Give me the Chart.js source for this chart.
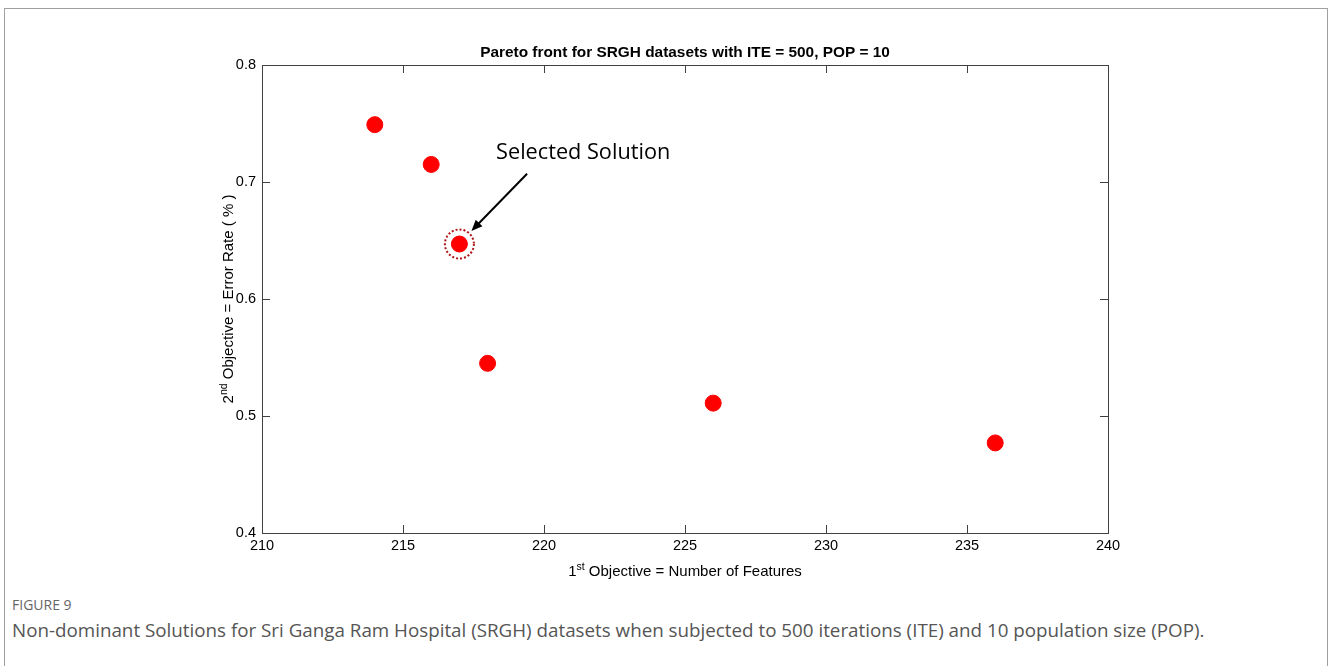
<!DOCTYPE html>
<html>
<head>
<meta charset="utf-8">
<script src="https://cdn.jsdelivr.net/npm/chart.js@4"></script>
<style>
  body { margin: 0; background: #fff; width: 1328px; height: 666px; overflow: hidden; position: relative; }
  .frame { position: absolute; left: 4px; top: 8px; right: 0px; height: 700px; border: 1px solid #a0a0a0; border-bottom: none; }
  #wrap { position: absolute; left: 0; top: 0; width: 1328px; height: 590px; }
  .fig-label { position: absolute; left: 12px; top: 595px; font-family: "Open Sans", sans-serif; font-size: 14px; color: #666; }
  .fig-caption { position: absolute; left: 12px; top: 617px; font-family: "Open Sans", sans-serif; font-size: 18.8px; color: #555; white-space: nowrap; }
</style>
</head>
<body>
<div class="frame"></div>
<div id="wrap"><canvas id="paretoChart"></canvas></div>
<div class="fig-label">FIGURE 9</div>
<div class="fig-caption">Non-dominant Solutions for Sri Ganga Ram Hospital (SRGH) datasets when subjected to 500 iterations (ITE) and 10 population size (POP).</div>
<script>
// data
const numFeatures = [214, 216, 217, 218, 226, 236];
const errorRate = [0.749, 0.715, 0.647, 0.545, 0.511, 0.477];
const xTicks = [210, 215, 220, 225, 230, 235, 240];
const yTicks = [0.4, 0.5, 0.6, 0.7, 0.8];
const selectedIndex = 2;

const chartTitle = 'Pareto front for SRGH datasets with ITE = 500, POP = 10';
const annotationText = 'Selected Solution';

const axisFont = '15px "Liberation Sans", Arial, sans-serif';

// box, inward ticks, axis titles with superscripts, annotation
const matlabAxes = {
  id: 'matlabAxes',
  afterDraw(chart) {
    const ctx = chart.ctx;
    const a = chart.chartArea;
    const xs = chart.scales.x;
    const ys = chart.scales.y;
    ctx.save();
    ctx.strokeStyle = '#404040';
    ctx.lineWidth = 1;
    ctx.strokeRect(a.left + 0.5, a.top + 0.5, a.right - a.left, a.bottom - a.top);

    const tl = 8;
    ctx.beginPath();
    xTicks.forEach(v => {
      const px = Math.round(xs.getPixelForValue(v)) + 0.5;
      ctx.moveTo(px, a.bottom); ctx.lineTo(px, a.bottom - tl);
      ctx.moveTo(px, a.top); ctx.lineTo(px, a.top + tl);
    });
    yTicks.forEach(v => {
      const py = Math.round(ys.getPixelForValue(v)) + 0.5;
      ctx.moveTo(a.left, py); ctx.lineTo(a.left + tl, py);
      ctx.moveTo(a.right, py); ctx.lineTo(a.right - tl, py);
    });
    ctx.stroke();

    // title
    const cx = (a.left + a.right) / 2;
    ctx.fillStyle = '#000';
    ctx.font = 'bold 15.4px "Liberation Sans", Arial, sans-serif';
    ctx.textAlign = 'center';
    ctx.textBaseline = 'alphabetic';
    ctx.fillText(chartTitle, cx, a.top - 8);

    // x axis title: 1st Objective = Number of Features
    drawSupLabel(ctx, '1', 'st', ' Objective = Number of Features', cx, a.bottom + 43);

    // y axis title rotated
    ctx.save();
    ctx.translate(a.left - 29, (a.top + a.bottom) / 2);
    ctx.rotate(-Math.PI / 2);
    drawSupLabel(ctx, '2', 'nd', ' Objective = Error Rate ( % )', 0, 0);
    ctx.restore();

    // selected solution marker
    const sx = xs.getPixelForValue(numFeatures[selectedIndex]);
    const sy = ys.getPixelForValue(errorRate[selectedIndex]);
    ctx.strokeStyle = '#b01515';
    ctx.lineWidth = 2;
    ctx.setLineDash([2, 2]);
    ctx.beginPath();
    ctx.arc(sx, sy, 14.5, 0, Math.PI * 2);
    ctx.stroke();
    ctx.setLineDash([]);

    // arrow
    const tx = xs.getPixelForValue(219.4), ty = ys.getPixelForValue(0.707);
    const hx = sx + 12, hy = sy - 13;
    const ang = Math.atan2(hy - ty, hx - tx);
    ctx.strokeStyle = '#000';
    ctx.fillStyle = '#000';
    ctx.lineWidth = 2;
    ctx.beginPath();
    ctx.moveTo(tx, ty);
    ctx.lineTo(hx - 8 * Math.cos(ang), hy - 8 * Math.sin(ang));
    ctx.stroke();
    ctx.beginPath();
    ctx.moveTo(hx, hy);
    ctx.lineTo(hx - 12 * Math.cos(ang - 0.4), hy - 12 * Math.sin(ang - 0.4));
    ctx.lineTo(hx - 12 * Math.cos(ang + 0.4), hy - 12 * Math.sin(ang + 0.4));
    ctx.closePath();
    ctx.fill();

    ctx.font = '21.7px "Open Sans", sans-serif';
    ctx.textAlign = 'left';
    ctx.textBaseline = 'middle';
    ctx.fillText(annotationText, xs.getPixelForValue(218.3), ys.getPixelForValue(0.725));
    ctx.restore();
  }
};

function drawSupLabel(ctx, base, sup, rest, cx, y) {
  const big = axisFont;
  const small = '10.5px "Liberation Sans", Arial, sans-serif';
  ctx.font = big;
  const w1 = ctx.measureText(base).width;
  const w3 = ctx.measureText(rest).width;
  ctx.font = small;
  const w2 = ctx.measureText(sup).width;
  let x = cx - (w1 + w2 + w3) / 2;
  ctx.textAlign = 'left';
  ctx.textBaseline = 'alphabetic';
  ctx.fillStyle = '#000';
  ctx.font = big;
  ctx.fillText(base, x, y);
  x += w1;
  ctx.font = small;
  ctx.fillText(sup, x, y - 6);
  x += w2;
  ctx.font = big;
  ctx.fillText(rest, x, y);
}

const ctx = document.getElementById('paretoChart');
new Chart(ctx, {
  type: 'scatter',
  data: {
    datasets: [{
      data: numFeatures.map((x, i) => ({ x: x, y: errorRate[i] })),
      backgroundColor: '#ff0000',
      borderColor: '#ff0000',
      pointRadius: 8,
      pointHoverRadius: 8
    }]
  },
  options: {
    responsive: true,
    maintainAspectRatio: false,
    animation: false,
    layout: { padding: { left: 222, right: 220, top: 65, bottom: 27 } },
    plugins: { legend: { display: false }, tooltip: { enabled: false } },
    scales: {
      x: {
        type: 'linear',
        min: 210,
        max: 240,
        afterBuildTicks: s => { s.ticks = xTicks.map(v => ({ value: v })); },
        afterFit: s => { s.height = 30; },
        grid: { display: false, drawTicks: false },
        border: { display: false },
        ticks: { color: '#000', padding: 4, maxRotation: 0, font: { family: '"Liberation Sans", Arial, sans-serif', size: 14.5 } }
      },
      y: {
        type: 'linear',
        min: 0.4,
        max: 0.8,
        afterBuildTicks: s => { s.ticks = yTicks.map(v => ({ value: v })); },
        afterFit: s => { s.width = 40; },
        grid: { display: false, drawTicks: false },
        border: { display: false },
        ticks: { color: '#000', padding: 6, callback: v => v.toFixed(1), font: { family: '"Liberation Sans", Arial, sans-serif', size: 14.5 } }
      }
    }
  },
  plugins: [matlabAxes]
});
</script>
</body>
</html>
